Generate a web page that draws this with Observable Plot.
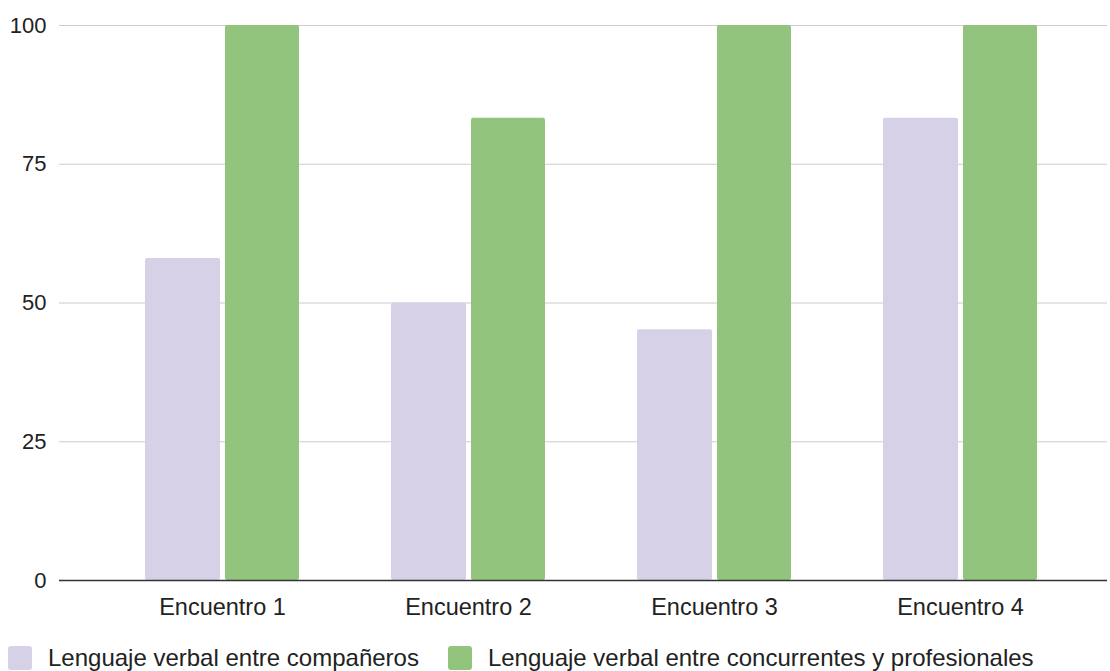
<!DOCTYPE html>
<html><head><meta charset="utf-8">
<script src="https://cdn.jsdelivr.net/npm/d3@7"></script>
<script src="https://cdn.jsdelivr.net/npm/@observablehq/plot@0.6"></script>
<style>
body{margin:0;background:#fff;font-family:"Liberation Sans",Arial,sans-serif;}
#legend{display:flex;align-items:center;margin-top:14px;margin-left:8px;font-size:24px;color:#222;}
.sw{width:24px;height:24px;border-radius:3px;margin-right:16px;}
.item{display:flex;align-items:center;margin-right:29px;}
</style></head><body><div id="chart"></div><div id="legend"></div>
<script>
const categories = ["Encuentro 1", "Encuentro 2", "Encuentro 3", "Encuentro 4"];
const seriesNames = ["Lenguaje verbal entre compañeros", "Lenguaje verbal entre concurrentes y profesionales"];
const companeros = [58, 50, 45.2, 83.3];
const profesionales = [100, 83.3, 100, 100];
const yTicks = [0, 25, 50, 75, 100];
const colors = ["#d6d1e7", "#93c47d"];

const dataA = categories.map((c, i) => ({cat: c, serie: seriesNames[0], v: companeros[i]}));
const dataB = categories.map((c, i) => ({cat: c, serie: seriesNames[1], v: profesionales[i]}));

const chart = Plot.plot({
  width: 1110, height: 630,
  marginLeft: 59, marginRight: 3, marginTop: 25, marginBottom: 50,
  style: {fontFamily: "Liberation Sans, Arial, sans-serif", fontSize: "22px", color: "#222", background: "#fff"},
  x: {domain: categories, paddingInner: 0.374, paddingOuter: 0.317, align: 0.551, tickSize: 0, tickPadding: 18, label: null},
  y: {domain: [0, 100], ticks: yTicks, tickSize: 0, tickPadding: 13, label: null},
  marks: [
    Plot.ruleY(yTicks.filter(t => t > 0), {stroke: "#ccc", strokeWidth: 1.2}),
    Plot.barY(dataA, {x: "cat", y: "v", fill: colors[0], insetRight: 79, rx: 2}),
    Plot.barY(dataB, {x: "cat", y: "v", fill: colors[1], insetLeft: 80, rx: 2}),
    Plot.ruleY([0], {stroke: "#333", strokeWidth: 1.4})
  ]
});
chart.querySelectorAll("[aria-label='x-axis tick label'] text, [aria-label='x-axis'] text").forEach(t => t.style.fontSize = "23.5px");
document.getElementById("chart").appendChild(chart);

const legend = document.getElementById("legend");
seriesNames.forEach((name, i) => {
  const item = document.createElement("div");
  item.className = "item";
  const sw = document.createElement("div");
  sw.className = "sw";
  sw.style.background = colors[i];
  const t = document.createElement("span");
  t.textContent = name;
  item.appendChild(sw); item.appendChild(t);
  legend.appendChild(item);
});
</script></body></html>
